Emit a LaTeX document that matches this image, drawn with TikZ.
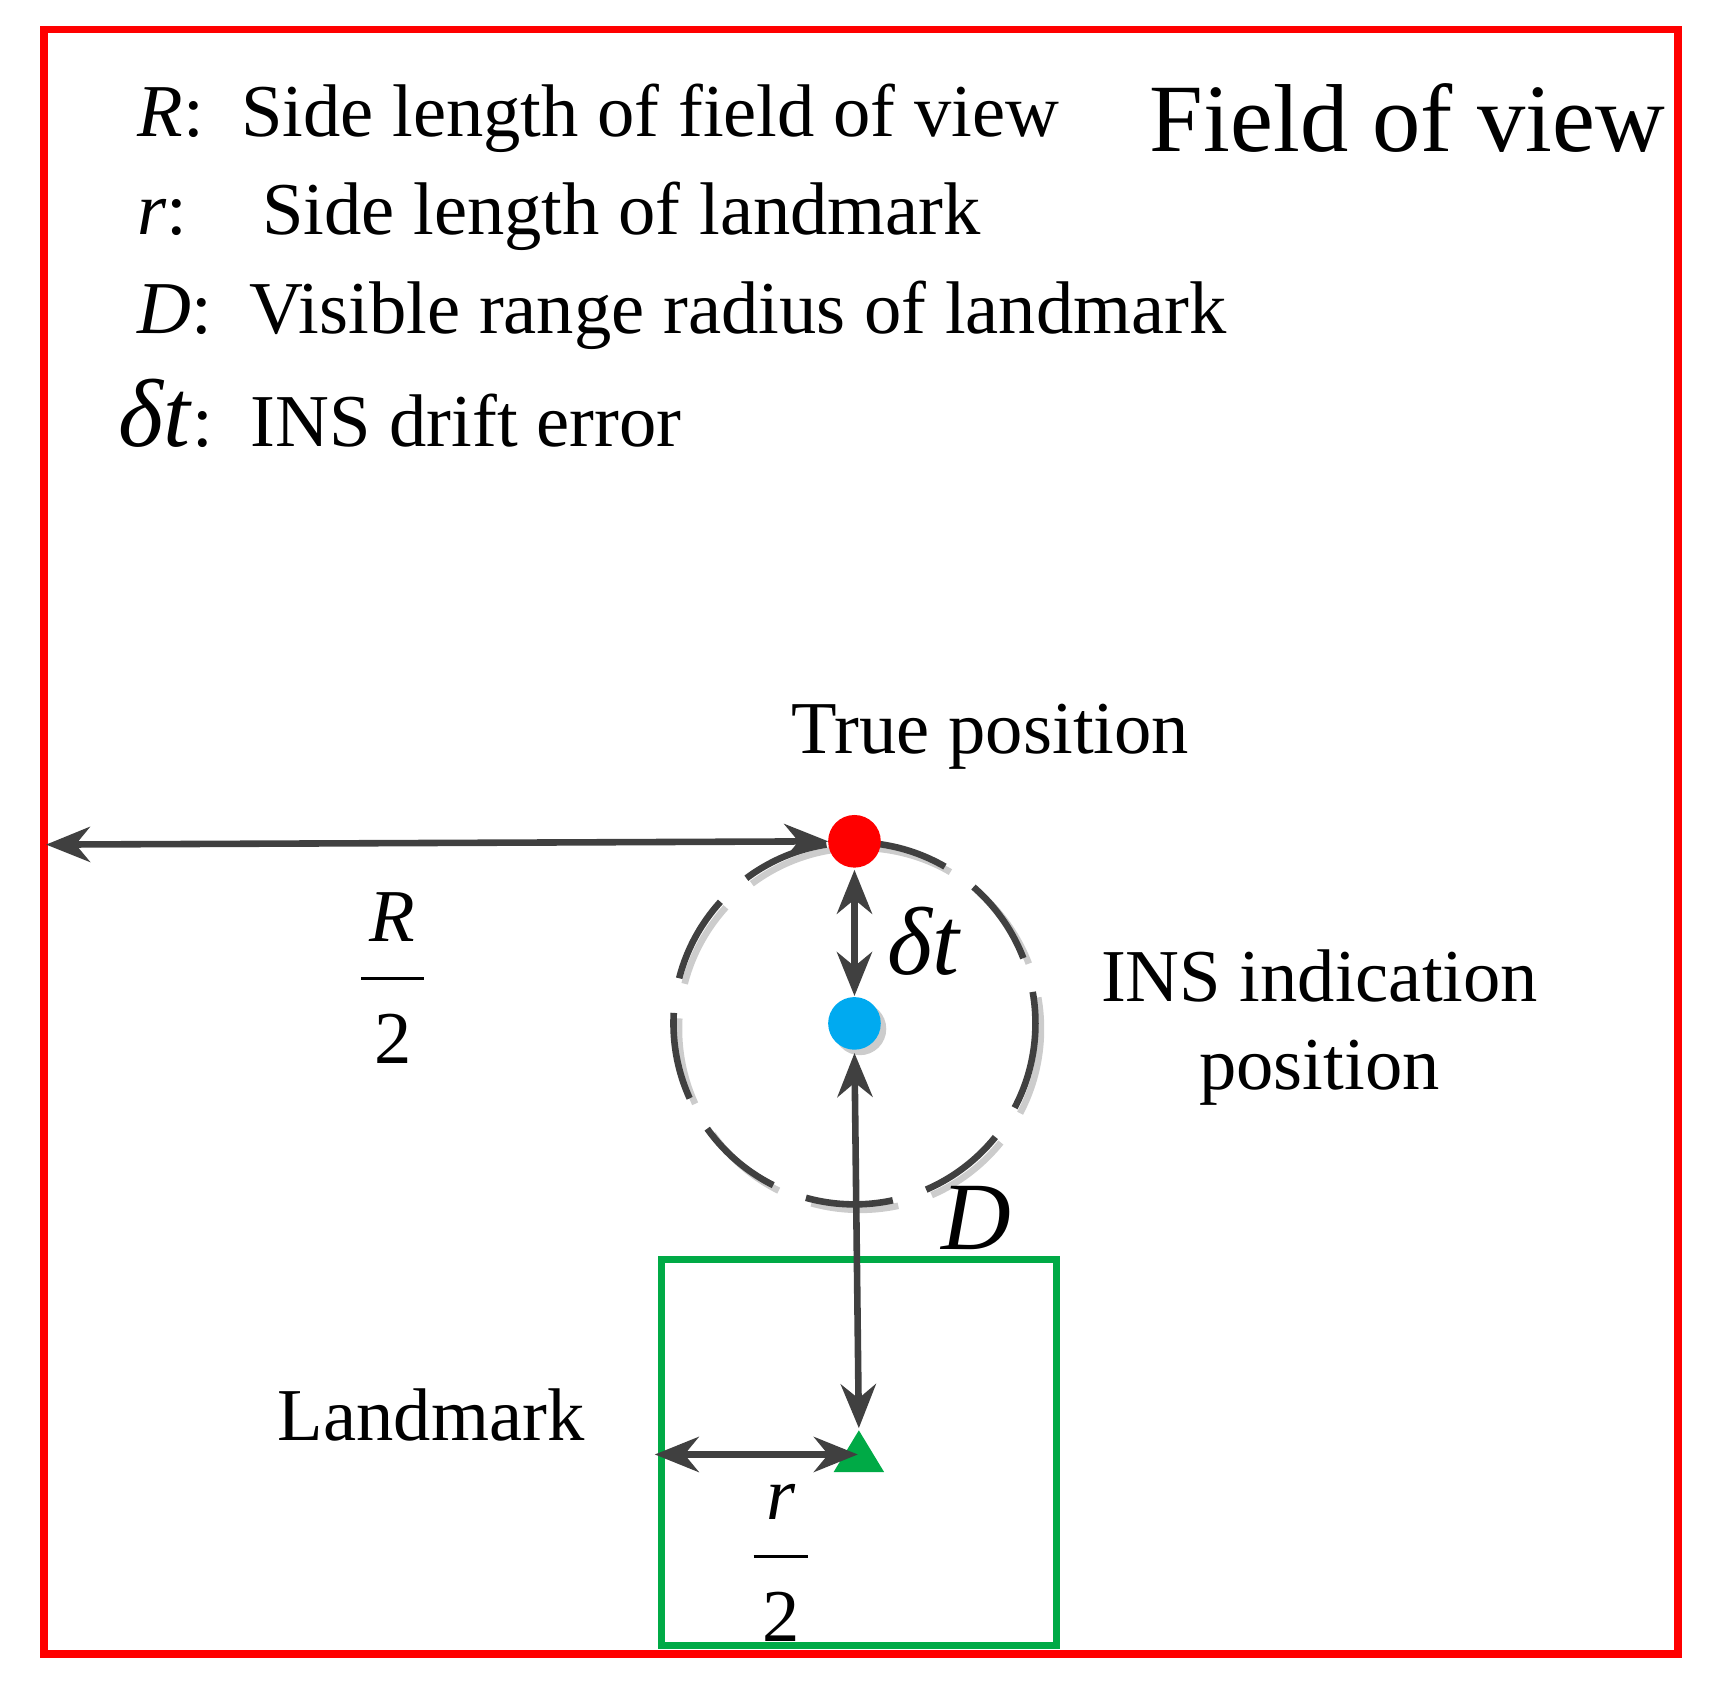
\documentclass[tikz,border=0pt]{standalone}
\usepackage{fontspec}
\setmainfont{Liberation Serif}
\usetikzlibrary{arrows.meta}
\definecolor{dg}{HTML}{404040}
\definecolor{lmg}{RGB}{0,170,70}
\definecolor{insb}{RGB}{0,170,240}
\newcommand{\myfrac}[2]{\setlength{\arrayrulewidth}{1.5pt}\begin{tabular}{@{\hspace{4pt}}c@{\hspace{4pt}}}\textit{#1}\\[4pt]\hline\rule{0pt}{38pt}#2\end{tabular}}
\begin{document}
\begin{tikzpicture}[x=0.5pt,y=-0.5pt,
  arr/.style={draw=dg,line width=3pt,{Stealth[length=20pt,width=16pt]}-{Stealth[length=20pt,width=16pt]}},
  lab/.style={inner sep=0pt,font=\fontsize{34}{40}\selectfont},
  big/.style={inner sep=0pt,font=\fontsize{44}{50}\selectfont}]
\useasboundingbox (0,0) rectangle (1569,1537);
\draw[red,line width=3.5pt] (40,27) rectangle (1530,1508);
\draw[lmg,line width=3pt] (603,1148) rectangle (963,1500);
% circle
\draw[gray!40,line width=3pt,dash pattern=on 40pt off 16pt] (784,938) circle (165);
\draw[dg,line width=3pt,dash pattern=on 40pt off 16pt] (779,933) circle (165);
\fill[red] (779,767) circle (24) node (tp) {};
\fill[gray!40] (784,938) circle (24);
\fill[insb] (779,933) circle (24) node (ins) {};
\fill[lmg] (760,1342) -- (783,1304) -- (806,1342) -- cycle;
\coordinate (L) at (42,770); \coordinate (tpl) at (755,767);
\coordinate (a1) at (779,793); \coordinate (a2) at (779,908);
\coordinate (b1) at (779,960); \coordinate (b2) at (783,1302);
\coordinate (c1) at (597,1326); \coordinate (c2) at (782,1326);
\draw[arr] (L) -- (tpl);
\draw[arr] (a1) -- (a2);
\draw[arr] (b1) -- (b2);
\draw[arr] (c1) -- (c2);
% labels
\node[lab] (rh) at (358,898) {\myfrac{R}{2}};
\node[lab] (rr) at (712,1425) {\myfrac{r}{2}};
\node[big] (dt) at (843,858) {\textit{δt}};
\node[big] (dd) at (890,1110) {\textit{D}};
\node[lab] (lm) at (393,1290) {Landmark};
\node[lab] (tpt) at (903,672) {True position};
\node[lab,align=center] (inst) at (1203,937) {INS indication\\position};
\node[big] (fov) at (1283,108) {Field of view};
\node[lab,anchor=west] at (125,108) {\textit{R}:\ \ Side length of field of view};
\node[lab,anchor=west] at (125,197) {\textit{r}:\ \ \ \ Side length of landmark};
\node[lab,anchor=west] at (125,287) {\textit{D}:\ \ Visible range radius of landmark};
\node[lab,anchor=west] at (108,377) {{\fontsize{44}{50}\selectfont\textit{δt}}:\ \ INS drift error};
\end{tikzpicture}
\end{document}
